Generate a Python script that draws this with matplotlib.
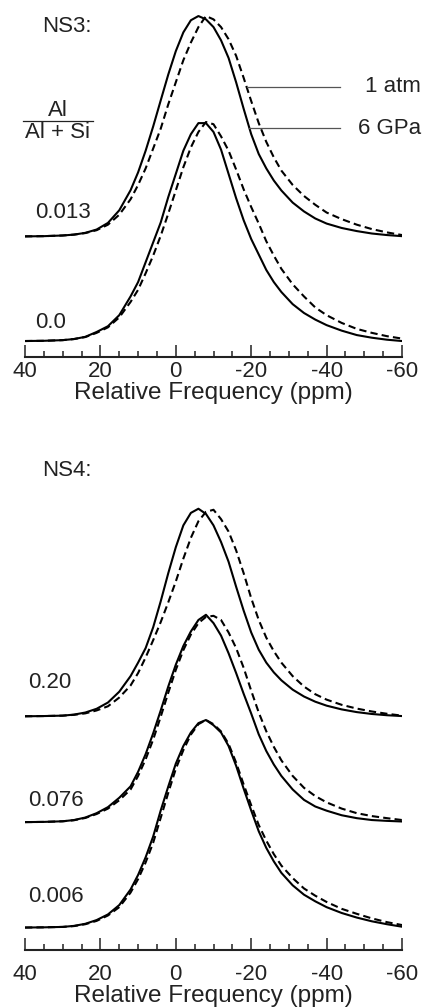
import matplotlib
import matplotlib.pyplot as plt
from matplotlib.ticker import MultipleLocator

matplotlib.use("Agg")
plt.rcParams["font.family"] = ["Liberation Sans", "DejaVu Sans"]

ppm = [40, 35, 30, 27, 24, 21, 18, 15, 12, 10, 8, 6, 4, 2, 0, -2, -4, -6, -8, -10,
       -12, -14, -16, -18, -20, -22, -24, -26, -28, -31, -34, -37, -40, -44, -48,
       -52, -56, -60]

# NS3 glass, normalised intensity; solid = 6 GPa, dashed = 1 atm
ns3_013_6gpa = [0.002, 0.003, 0.006, 0.010, 0.018, 0.033, 0.063, 0.12, 0.211, 0.292,
                0.39, 0.50, 0.618, 0.735, 0.841, 0.926, 0.981, 1.0, 0.985, 0.95,
                0.89, 0.81, 0.70, 0.58, 0.465, 0.375, 0.31, 0.255, 0.21, 0.155,
                0.115, 0.083, 0.06, 0.04, 0.026, 0.015, 0.008, 0.003]
ns3_013_1atm = [0.002, 0.003, 0.006, 0.010, 0.017, 0.030, 0.055, 0.10, 0.17, 0.235,
                0.31, 0.40, 0.49, 0.60, 0.70, 0.80, 0.88, 0.95, 1.0, 0.985,
                0.95, 0.895, 0.82, 0.72, 0.615, 0.515, 0.43, 0.36, 0.30, 0.235,
                0.185, 0.145, 0.11, 0.08, 0.055, 0.035, 0.02, 0.008]
ns3_00_6gpa = [0.003, 0.004, 0.007, 0.012, 0.022, 0.044, 0.07, 0.12, 0.205, 0.27,
               0.36, 0.45, 0.54, 0.655, 0.76, 0.865, 0.94, 0.99, 0.99, 0.95,
               0.87, 0.76, 0.65, 0.55, 0.465, 0.395, 0.325, 0.27, 0.225, 0.17,
               0.13, 0.10, 0.075, 0.05, 0.03, 0.018, 0.009, 0.003]
ns3_00_1atm = [0.003, 0.004, 0.007, 0.012, 0.021, 0.04, 0.065, 0.11, 0.18, 0.235,
               0.31, 0.39, 0.48, 0.58, 0.685, 0.79, 0.88, 0.95, 0.995, 0.985,
               0.93, 0.865, 0.78, 0.69, 0.61, 0.535, 0.455, 0.39, 0.33, 0.26,
               0.205, 0.155, 0.12, 0.085, 0.058, 0.04, 0.025, 0.014]

# NS4 glass
ns4_020_6gpa = [0.002, 0.003, 0.005, 0.01, 0.02, 0.038, 0.068, 0.12, 0.195, 0.26,
                0.33, 0.43, 0.555, 0.69, 0.815, 0.92, 0.98, 1.0, 0.975, 0.92,
                0.84, 0.745, 0.625, 0.51, 0.405, 0.322, 0.26, 0.213, 0.175, 0.13,
                0.097, 0.072, 0.053, 0.035, 0.022, 0.013, 0.007, 0.003]
ns4_020_1atm = [0.002, 0.003, 0.005, 0.009, 0.016, 0.03, 0.05, 0.092, 0.15, 0.21,
                0.285, 0.368, 0.455, 0.55, 0.65, 0.76, 0.86, 0.94, 0.985, 0.995,
                0.95, 0.89, 0.80, 0.69, 0.57, 0.465, 0.38, 0.315, 0.26, 0.195,
                0.145, 0.108, 0.082, 0.057, 0.039, 0.025, 0.014, 0.005]
ns4_076_6gpa = [0.003, 0.004, 0.007, 0.013, 0.025, 0.046, 0.075, 0.12, 0.175, 0.245,
                0.33, 0.43, 0.54, 0.655, 0.76, 0.85, 0.92, 0.975, 1.0, 0.96,
                0.90, 0.815, 0.72, 0.62, 0.525, 0.425, 0.345, 0.28, 0.225, 0.16,
                0.11, 0.078, 0.058, 0.036, 0.022, 0.013, 0.009, 0.006]
ns4_076_1atm = [0.003, 0.004, 0.007, 0.012, 0.023, 0.042, 0.068, 0.108, 0.16, 0.225,
                0.305, 0.40, 0.51, 0.625, 0.735, 0.83, 0.905, 0.96, 0.99, 0.995,
                0.975, 0.915, 0.84, 0.745, 0.635, 0.53, 0.44, 0.365, 0.30, 0.225,
                0.168, 0.128, 0.098, 0.068, 0.046, 0.032, 0.022, 0.013]
ns4_006_6gpa = [0.002, 0.003, 0.005, 0.01, 0.02, 0.038, 0.065, 0.11, 0.185, 0.255,
                0.34, 0.44, 0.565, 0.68, 0.79, 0.875, 0.94, 0.985, 1.0, 0.975,
                0.94, 0.875, 0.78, 0.67, 0.565, 0.465, 0.385, 0.32, 0.265, 0.205,
                0.16, 0.128, 0.10, 0.072, 0.05, 0.032, 0.018, 0.006]
ns4_006_1atm = [0.002, 0.003, 0.005, 0.009, 0.018, 0.034, 0.06, 0.10, 0.17, 0.235,
                0.315, 0.41, 0.53, 0.65, 0.765, 0.855, 0.93, 0.98, 1.0, 0.98,
                0.945, 0.885, 0.795, 0.69, 0.59, 0.495, 0.42, 0.355, 0.30, 0.24,
                0.19, 0.155, 0.125, 0.092, 0.068, 0.046, 0.028, 0.014]

ns3_labels = ["0.013", "0.0"]
ns4_labels = ["0.20", "0.076", "0.006"]
tick_vals = [40, 20, 0, -20, -40, -60]
tick_text = ["40", "20", "0", "-20", "-40", "-60"]

W, H = 435, 1008


def fx(x):
    return x / W


def fy(y):
    return 1 - y / H


fig = plt.figure(figsize=(W / 100, H / 100), dpi=100)

ink = "#222222"
dash = (0, (3.5, 2))
fs = 16


def style_axis(ax, pad):
    ax.set_xlim(40, -60)
    for side in ("left", "right", "top"):
        ax.spines[side].set_visible(False)
    ax.spines["bottom"].set_linewidth(1.5)
    ax.spines["bottom"].set_color(ink)
    ax.set_yticks([])
    ax.xaxis.set_minor_locator(MultipleLocator(5))
    ax.set_xticks(tick_vals)
    ax.set_xticklabels(tick_text)
    ax.tick_params(axis="x", which="major", direction="in", length=8.5, width=1.1,
                   color=ink, labelsize=fs, labelcolor=ink, pad=pad)
    ax.tick_params(axis="x", which="minor", direction="in", length=4.5, width=1.1,
                   color=ink)
    ax.set_xlabel("Relative Frequency (ppm)", fontsize=17.5, color=ink, labelpad=0)
    ax.patch.set_alpha(0)


# ---- NS3 panel ----
ax1 = fig.add_axes([fx(25), fy(356.7), fx(377), 351.7 / H])
style_axis(ax1, pad=3)
ax1.set_ylim(-0.068, 1.525)
ns3_solid = [ns3_013_6gpa, ns3_00_6gpa]
ns3_dash = [ns3_013_1atm, ns3_00_1atm]
ns3_off = [0.475, 0.0]
for s, d, off in zip(ns3_solid, ns3_dash, ns3_off):
    ax1.plot(ppm, [v + off for v in s], color="black", lw=1.5)
    ax1.plot(ppm, [v + off for v in d], color="black", lw=1.5, linestyle=dash)

# leader lines for the legend
ax1.plot([-18.8, -43.6], [0.475 + 0.68, 0.475 + 0.68], color="#555555", lw=0.9)
ax1.plot([-19.5, -43.6], [0.475 + 0.493, 0.475 + 0.493], color="#555555", lw=0.9)

fig.text(fx(42), fy(26), "NS3:", fontsize=fs, color=ink, va="center", ha="left")
fig.text(fx(365), fy(87), "1 atm", fontsize=fs, color=ink, va="center", ha="left")
fig.text(fx(358), fy(128), "6 GPa", fontsize=fs, color=ink, va="center", ha="left")
fig.text(fx(58), fy(110), "Al", fontsize=fs, color=ink, va="center", ha="center")
fig.text(fx(58), fy(133), "Al + Si", fontsize=fs, color=ink, va="center", ha="center")
fig.add_artist(plt.Line2D([fx(23), fx(93)], [fy(121), fy(121)], color=ink, lw=0.9))
for lab, y in zip(ns3_labels, [213, 323]):
    fig.text(fx(35), fy(y), lab, fontsize=fs, color=ink, va="center", ha="left")

# ---- NS4 panel ----
ax2 = fig.add_axes([fx(25), fy(950), fx(377), 450 / H])
style_axis(ax2, pad=10)
ax2.set_ylim(-0.106, 2.058)
ns4_solid = [ns4_020_6gpa, ns4_076_6gpa, ns4_006_6gpa]
ns4_dash = [ns4_020_1atm, ns4_076_1atm, ns4_006_1atm]
ns4_off = [1.016, 0.506, 0.0]
for s, d, off in zip(ns4_solid, ns4_dash, ns4_off):
    ax2.plot(ppm, [v + off for v in s], color="black", lw=1.5)
    ax2.plot(ppm, [v + off for v in d], color="black", lw=1.5, linestyle=dash)

fig.text(fx(42), fy(470), "NS4:", fontsize=fs, color=ink, va="center", ha="left")
for lab, y in zip(ns4_labels, [683, 800, 897]):
    fig.text(fx(28), fy(y), lab, fontsize=fs, color=ink, va="center", ha="left")

fig.savefig("out.png", dpi=100)
plt.close(fig)
